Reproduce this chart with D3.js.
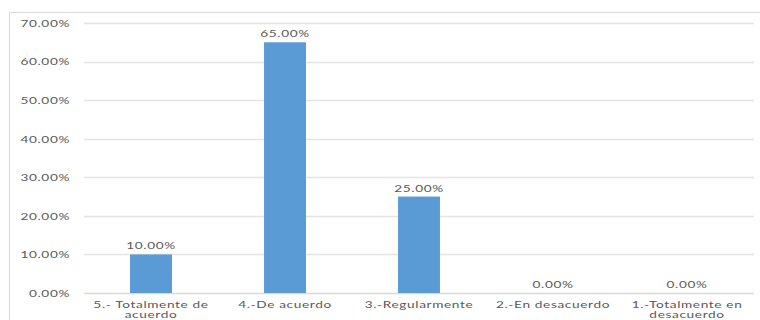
<!DOCTYPE html>
<html><head><meta charset="utf-8">
<script src="https://cdn.jsdelivr.net/npm/d3@7"></script>
<style>
html,body{margin:0;padding:0;background:#fff;}
svg text{font-family:Lato,"DejaVu Sans",sans-serif;fill:#595959;}
</style></head>
<body>
<svg id="c" width="760" height="320"></svg>
<script>
const categories = [["5.- Totalmente de","acuerdo"],["4.-De acuerdo"],["3.-Regularmente"],["2.-En desacuerdo"],["1.-Totalmente en","desacuerdo"]];
const values = [0.10, 0.65, 0.25, 0.00, 0.00];
const yTicks = [0, 0.1, 0.2, 0.3, 0.4, 0.5, 0.6, 0.7];

(function(){
const SX = 1.45, FS = 9.4, LS = 0.45;
const svg = d3.select("#c");
svg.append("path").attr("d","M9.5,330 V12.5 H770").attr("fill","none").attr("stroke","#d9d9d9").attr("stroke-width",1);

const pL = 84, pR = 754, pT = 23, pB = 293;
const x = d3.scaleBand().domain(d3.range(categories.length)).range([pL,pR]).padding(0);
const y = d3.scaleLinear().domain([0,0.7]).range([pB,pT]);
const fmt = d3.format(".2%");
const cx = i => x(i)+x.bandwidth()/2;

svg.append("g").selectAll("line").data(yTicks).join("line")
  .attr("x1",pL).attr("x2",pR)
  .attr("y1",d=>Math.round(y(d))+0.5).attr("y2",d=>Math.round(y(d))+0.5)
  .attr("stroke",d=>d===0?"#d9d9d9":"#e4e4e4").attr("stroke-width",1.3);

const yAxis = d3.axisLeft(y).tickValues(yTicks).tickFormat(fmt).tickSize(0).tickPadding(0);
const ga = svg.append("g").attr("transform","translate(70,0)").call(yAxis);
ga.select(".domain").remove();
ga.selectAll("text").attr("font-size",FS).attr("font-family","Lato").attr("fill","#595959")
  .attr("letter-spacing",LS)
  .attr("x",0).attr("dy","0.35em").attr("transform",`scale(${SX},1)`);

const bw = x.bandwidth()*0.313;
svg.append("g").selectAll("rect").data(values).join("rect")
  .attr("x",(d,i)=>cx(i)-bw/2)
  .attr("width",bw)
  .attr("y",d=>y(d))
  .attr("height",d=>pB-y(d))
  .attr("fill","#5B9BD5");

svg.append("g").selectAll("text").data(values).join("text")
  .attr("transform",(d,i)=>`translate(${cx(i)},${y(d)-5}) scale(${SX},1)`)
  .attr("text-anchor","middle").attr("font-size",FS).attr("letter-spacing",LS)
  .text(d=>fmt(d));

const cg = svg.append("g").selectAll("text").data(categories).join("text")
  .attr("transform",(d,i)=>`translate(${cx(i)},307.5) scale(${SX},1)`)
  .attr("text-anchor","middle").attr("font-size",FS).attr("letter-spacing",LS);
cg.selectAll("tspan").data(d=>d).join("tspan")
  .attr("x",0)
  .attr("dy",(d,i)=>i===0?0:10.5)
  .text(d=>d);
})();
</script>
</body></html>
